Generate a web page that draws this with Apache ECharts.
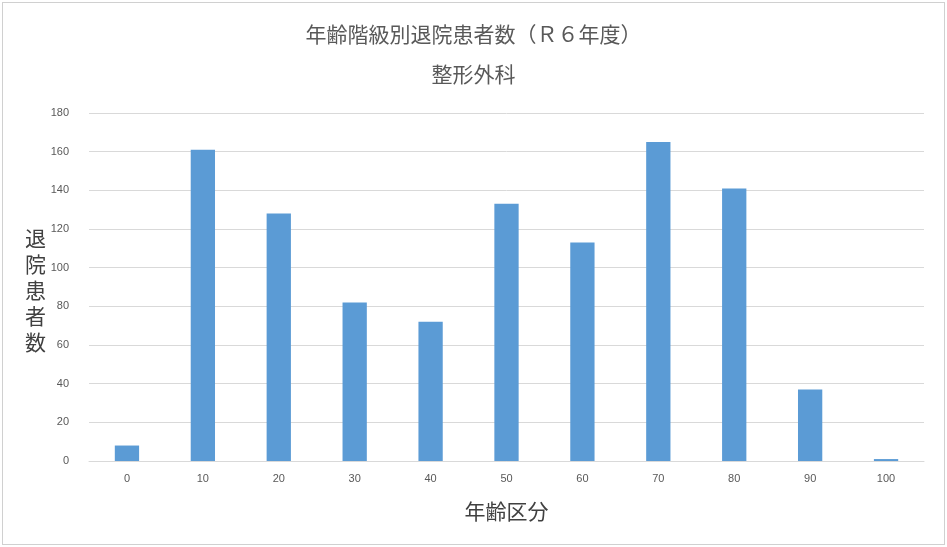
<!DOCTYPE html>
<html>
<head>
<meta charset="utf-8">
<script src="https://cdn.jsdelivr.net/npm/echarts@6/dist/echarts.min.js"></script>
<style>
  body { margin: 0; background: #fff; }
  #main { position: absolute; left: 2px; top: 2px; width: 941px; height: 541px; border: 1px solid #d0d0d0; }
</style>
</head>
<body>
<div id="main"></div>
<script>
  var categories = ['0', '10', '20', '30', '40', '50', '60', '70', '80', '90', '100'];
  var patients = [8, 161, 128, 82, 72, 133, 113, 165, 141, 37, 1];

  var myChart = echarts.init(document.getElementById('main'));
  var font = '"Noto Sans CJK JP", "Noto Sans", sans-serif';
  var option = {
    title: [
      { text: '年齢階級別退院患者数（Ｒ６年度）', left: 'center', top: 16,
        textStyle: { fontFamily: font, fontSize: 21, fontWeight: 'normal', color: '#595959' } },
      { text: '整形外科', left: 'center', top: 56,
        textStyle: { fontFamily: font, fontSize: 21, fontWeight: 'normal', color: '#595959' } }
    ],
    graphic: [{
      type: 'text', left: 22, top: 222,
      style: { text: '退\n院\n患\n者\n数', font: '21px ' + font, fill: '#404040', lineHeight: 26 }
    }],
    grid: { left: 86, right: 20, top: 110, bottom: 83 },
    xAxis: {
      type: 'category', data: categories,
      name: '年齢区分', nameLocation: 'middle', nameGap: 40,
      nameTextStyle: { fontFamily: font, fontSize: 21, color: '#404040' },
      axisTick: { show: false },
      axisLine: { lineStyle: { color: '#d9d9d9' } },
      axisLabel: { color: '#595959', fontSize: 11, margin: 12 }
    },
    yAxis: {
      type: 'value', min: 0, max: 180, interval: 20,
      axisLine: { show: false }, axisTick: { show: false },
      splitLine: { lineStyle: { color: '#d9d9d9' } },
      axisLabel: { color: '#595959', fontSize: 11, margin: 20 }
    },
    series: [{
      type: 'bar', data: patients, barWidth: '32%',
      itemStyle: { color: '#5b9bd5' }
    }]
  };
  myChart.setOption(option);
</script>
</body>
</html>
